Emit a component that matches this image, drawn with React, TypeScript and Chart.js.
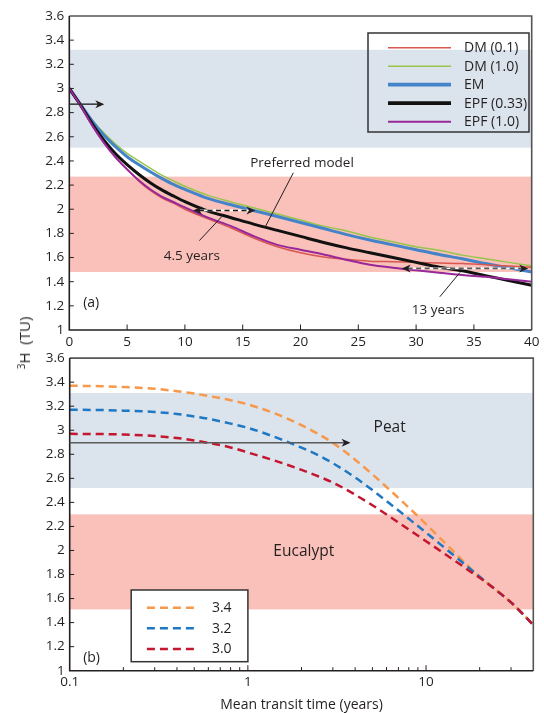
import React, { useEffect, useRef } from "react";
import { Chart, registerables } from "chart.js";

Chart.register(...registerables);

const FONT = "'Open Sans', 'Noto Sans', sans-serif";
const INK = "#231f20";

// ---------- Panel (a): linear mean transit time ----------
const YEARS_A = [0, 1, 2, 3, 4, 5, 6, 7, 8, 9, 10, 12, 14, 16, 18, 20, 22, 24, 26, 28, 30, 32, 34, 36, 38, 40];
const DM_01 = [3.0, 2.855, 2.69, 2.55, 2.43, 2.33, 2.235, 2.155, 2.095, 2.05, 2.0, 1.92, 1.845, 1.76, 1.69, 1.64, 1.605, 1.585, 1.57, 1.565, 1.56, 1.555, 1.55, 1.54, 1.53, 1.52];
const DM_10 = [3.0, 2.866, 2.738, 2.63, 2.54, 2.463, 2.4, 2.34, 2.283, 2.235, 2.19, 2.115, 2.06, 2.01, 1.96, 1.91, 1.86, 1.82, 1.77, 1.73, 1.69, 1.66, 1.62, 1.59, 1.56, 1.53];
const EM = [3.0, 2.865, 2.728, 2.612, 2.518, 2.435, 2.37, 2.31, 2.255, 2.205, 2.165, 2.09, 2.037, 1.988, 1.94, 1.89, 1.84, 1.79, 1.745, 1.705, 1.665, 1.625, 1.59, 1.55, 1.515, 1.48];
const EPF_033 = [3.0, 2.858, 2.705, 2.57, 2.46, 2.37, 2.29, 2.22, 2.16, 2.11, 2.063, 1.985, 1.93, 1.875, 1.825, 1.775, 1.725, 1.68, 1.64, 1.6, 1.56, 1.52, 1.49, 1.45, 1.41, 1.37];
const EPF_10 = [3.0, 2.855, 2.69, 2.55, 2.43, 2.33, 2.24, 2.165, 2.105, 2.06, 2.015, 1.93, 1.86, 1.775, 1.705, 1.665, 1.625, 1.58, 1.54, 1.515, 1.495, 1.475, 1.455, 1.44, 1.42, 1.4];
const LABELS_A = ["DM (0.1)", "DM (1.0)", "EM", "EPF (0.33)", "EPF (1.0)"];
const PEAT_A = [2.51, 3.32];
const EUC_A = [1.48, 2.27];
const X_TICKS_A = [0, 5, 10, 15, 20, 25, 30, 35, 40];
const Y_TICKS = [1, 1.2, 1.4, 1.6, 1.8, 2, 2.2, 2.4, 2.6, 2.8, 3, 3.2, 3.4, 3.6];

// annotations (a), in data units (years, TU)
const START_ARROW_A = { y: 2.87, x0: 0, x1: 3.03 };
const ARROW_45 = { y: 1.99, x0: 10.7, x1: 16.1 };
const LABEL_45 = { text: "4.5 years", x: 10.6, y: 1.615 };
const POINTER_45 = [[13.2, 1.94], [11.25, 1.74]];
const ARROW_13 = { y: 1.51, x0: 28.75, x1: 39.7 };
const LABEL_13 = { text: "13 years", x: 31.9, y: 1.167 };
const POINTER_13 = [[33.8, 1.477], [32.05, 1.275]];
const LABEL_PREF = { text: "Preferred model", x: 20.13, y: 2.383 };
const POINTER_PREF = [[19.38, 2.302], [16.93, 1.85]];
const TAG_A = { text: "(a)", x: 1.2, y: 1.22 };

// ---------- Panel (b): log mean transit time ----------
const YEARS_B = [0.1, 0.15, 0.2, 0.3, 0.4, 0.5, 0.6, 0.8, 1, 1.5, 2, 2.5, 3, 4, 5, 6, 8, 10, 12, 15, 18, 22, 26, 30, 35, 40];
const INIT_34 = [3.37, 3.366, 3.36, 3.345, 3.325, 3.305, 3.285, 3.25, 3.215, 3.125, 3.042, 2.967, 2.895, 2.755, 2.633, 2.528, 2.357, 2.219, 2.102, 1.96, 1.843, 1.73, 1.645, 1.568, 1.47, 1.38];
const INIT_32 = [3.17, 3.168, 3.163, 3.152, 3.135, 3.115, 3.095, 3.055, 3.02, 2.93, 2.855, 2.79, 2.726, 2.607, 2.502, 2.411, 2.264, 2.149, 2.053, 1.935, 1.838, 1.73, 1.645, 1.568, 1.47, 1.38];
const INIT_30 = [2.97, 2.968, 2.965, 2.952, 2.935, 2.915, 2.895, 2.857, 2.815, 2.735, 2.67, 2.615, 2.565, 2.464, 2.376, 2.299, 2.174, 2.077, 1.998, 1.9, 1.818, 1.73, 1.645, 1.568, 1.47, 1.38];
const LABELS_B = ["3.4", "3.2", "3.0"];
const PEAT_B = [2.52, 3.31];
const EUC_B = [1.51, 2.3];
const X_MAJOR_B = [0.1, 1, 10];
const X_MINOR_B = [0.2, 0.3, 0.4, 0.5, 0.6, 0.7, 0.8, 0.9, 2, 3, 4, 5, 6, 7, 8, 9, 20, 30];

const ARROW_B = { y: 2.896, x0: 0.1, x1: 3.77 };
const LABEL_PEAT = { text: "Peat", x: 6.25, y: 3.02 };
const LABEL_EUC = { text: "Eucalypt", x: 2.06, y: 1.99 };
const TAG_B = { text: "(b)", x: 0.119, y: 1.103 };

// ---------- styles ----------
const PEAT_COLOR = "#dbe3ec";
const EUC_COLOR = "#f9c1b9";
const COLORS_A = ["#d8574f", "#98c54c", "#4583c9", "#111111", "#98289a"];
const WIDTHS_A = [1.5, 1.5, 3, 3, 2];
const ORDER_A = [2, 4, 3, 1, 0];
const COLORS_B = ["#f7984a", "#1f78c4", "#c3172f"];

function arrowHead(ctx: CanvasRenderingContext2D, x: number, y: number, dir: number, color: string) {
  const len = 9, half = 4, notch = 2.5;
  ctx.fillStyle = color;
  ctx.beginPath();
  ctx.moveTo(x, y);
  ctx.lineTo(x - dir * len, y - half);
  ctx.lineTo(x - dir * (len - notch), y);
  ctx.lineTo(x - dir * len, y + half);
  ctx.closePath();
  ctx.fill();
}

function drawBand(chart: any, range: number[], color: string) {
  const { ctx, chartArea: ca, scales } = chart;
  const y0 = scales.y.getPixelForValue(range[1]);
  const y1 = scales.y.getPixelForValue(range[0]);
  ctx.fillStyle = color;
  ctx.fillRect(ca.left, y0, ca.right - ca.left, y1 - y0);
}

function drawFrame(chart: any, xMajor: number[], xMinor: number[]) {
  const { ctx, chartArea: ca, scales } = chart;
  const sx = scales.x, sy = scales.y;
  ctx.save();
  ctx.strokeStyle = "#555";
  ctx.lineWidth = 1.6;
  ctx.beginPath();
  ctx.moveTo(ca.left, ca.top);
  ctx.lineTo(ca.right, ca.top);
  ctx.lineTo(ca.right, ca.bottom);
  ctx.stroke();
  ctx.strokeStyle = INK;
  ctx.lineWidth = 1;
  ctx.beginPath();
  for (const v of xMajor) {
    const px = sx.getPixelForValue(v);
    if (px <= ca.left + 1 || px >= ca.right - 1) continue;
    ctx.moveTo(px, ca.bottom);
    ctx.lineTo(px, ca.bottom - 5.5);
  }
  for (const v of xMinor) {
    const px = sx.getPixelForValue(v);
    if (px <= ca.left + 1 || px >= ca.right - 1) continue;
    ctx.moveTo(px, ca.bottom);
    ctx.lineTo(px, ca.bottom - 3.5);
  }
  for (const v of Y_TICKS) {
    const py = sy.getPixelForValue(v);
    if (py <= ca.top + 1 || py >= ca.bottom - 1) continue;
    ctx.moveTo(ca.left, py);
    ctx.lineTo(ca.left + 4.5, py);
  }
  ctx.stroke();
  ctx.strokeStyle = INK;
  ctx.lineWidth = 1.6;
  ctx.beginPath();
  ctx.moveTo(ca.left, ca.top);
  ctx.lineTo(ca.left, ca.bottom);
  ctx.lineTo(ca.right, ca.bottom);
  ctx.stroke();
  ctx.restore();
}

function text(chart: any, t: { text: string; x: number; y: number }, size: number, align: CanvasTextAlign) {
  const { ctx, scales } = chart;
  ctx.fillStyle = INK;
  ctx.font = `${size}px ${FONT}`;
  ctx.textAlign = align;
  ctx.textBaseline = "middle";
  ctx.fillText(t.text, scales.x.getPixelForValue(t.x), scales.y.getPixelForValue(t.y));
}

function pointer(chart: any, pts: number[][]) {
  const { ctx, scales } = chart;
  ctx.strokeStyle = INK;
  ctx.lineWidth = 1;
  ctx.setLineDash([]);
  ctx.beginPath();
  ctx.moveTo(scales.x.getPixelForValue(pts[0][0]), scales.y.getPixelForValue(pts[0][1]));
  ctx.lineTo(scales.x.getPixelForValue(pts[1][0]), scales.y.getPixelForValue(pts[1][1]));
  ctx.stroke();
}

function solidArrow(chart: any, a: { y: number; x0: number; x1: number }, color: string) {
  const { ctx, scales } = chart;
  const x0 = scales.x.getPixelForValue(a.x0);
  const x1 = scales.x.getPixelForValue(a.x1);
  const y = scales.y.getPixelForValue(a.y);
  ctx.strokeStyle = color;
  ctx.lineWidth = 1.5;
  ctx.setLineDash([]);
  ctx.beginPath();
  ctx.moveTo(x0, y);
  ctx.lineTo(x1 - 6, y);
  ctx.stroke();
  arrowHead(ctx, x1, y, 1, "#231f20");
}

function dashedDouble(chart: any, a: { y: number; x0: number; x1: number }, color: string) {
  const { ctx, scales } = chart;
  const x0 = scales.x.getPixelForValue(a.x0);
  const x1 = scales.x.getPixelForValue(a.x1);
  const y = scales.y.getPixelForValue(a.y);
  ctx.setLineDash([]);
  ctx.strokeStyle = "#ffffff";
  ctx.lineWidth = 1.8;
  ctx.beginPath();
  ctx.moveTo(x0 + 6, y);
  ctx.lineTo(x1 - 6, y);
  ctx.stroke();
  ctx.strokeStyle = color;
  ctx.lineWidth = 1.6;
  ctx.setLineDash([5, 3.5]);
  ctx.beginPath();
  ctx.moveTo(x0 + 6, y);
  ctx.lineTo(x1 - 6, y);
  ctx.stroke();
  ctx.setLineDash([]);
  arrowHead(ctx, x0, y, -1, "#231f20");
  arrowHead(ctx, x1, y, 1, "#231f20");
}

const pluginA = {
  id: "panelA",
  beforeDatasetsDraw(chart: any) {
    const { ctx } = chart;
    ctx.save();
    drawBand(chart, PEAT_A, PEAT_COLOR);
    drawBand(chart, EUC_A, EUC_COLOR);
    ctx.restore();
  },
  afterDatasetsDraw(chart: any) {
    const { ctx, chartArea: ca } = chart;
    drawFrame(chart, X_TICKS_A, []);
    ctx.save();
    solidArrow(chart, START_ARROW_A, "#333");
    dashedDouble(chart, ARROW_45, "#1a1a1a");
    dashedDouble(chart, ARROW_13, "#5a5a5a");
    pointer(chart, POINTER_45);
    pointer(chart, POINTER_13);
    pointer(chart, POINTER_PREF);
    text(chart, LABEL_45, 13.5, "center");
    text(chart, LABEL_13, 13.5, "center");
    text(chart, LABEL_PREF, 13.5, "center");
    text(chart, TAG_A, 14, "left");
    // legend
    const bw = 161, bh = 99;
    const bx = ca.right - 2.7 - bw, by = ca.top + 17;
    ctx.strokeStyle = "#333";
    ctx.lineWidth = 1.5;
    ctx.strokeRect(bx, by, bw, bh);
    chart.data.datasets.forEach((ds: any, i: number) => {
      const y = by + 14.7 + i * 18.5;
      ctx.strokeStyle = ds.borderColor;
      ctx.lineWidth = ds.borderWidth + (ds.borderWidth >= 3 ? 0.8 : 0);
      ctx.beginPath();
      ctx.moveTo(bx + 20, y);
      ctx.lineTo(bx + 83, y);
      ctx.stroke();
      ctx.fillStyle = INK;
      ctx.font = `14px ${FONT}`;
      ctx.textAlign = "left";
      ctx.textBaseline = "middle";
      ctx.fillText(ds.label, bx + 96, y + 0.5);
    });
    ctx.restore();
  },
};

const pluginB = {
  id: "panelB",
  beforeDatasetsDraw(chart: any) {
    const { ctx } = chart;
    ctx.save();
    drawBand(chart, PEAT_B, PEAT_COLOR);
    drawBand(chart, EUC_B, EUC_COLOR);
    ctx.restore();
  },
  afterDatasetsDraw(chart: any) {
    const { ctx, chartArea: ca } = chart;
    drawFrame(chart, X_MAJOR_B, X_MINOR_B);
    ctx.save();
    solidArrow(chart, ARROW_B, "#5a5a5a");
    text(chart, LABEL_PEAT, 15.5, "center");
    text(chart, LABEL_EUC, 15.5, "center");
    text(chart, TAG_B, 14, "left");
    const bw = 116.7, bh = 71.7;
    const bx = ca.left + 61.5, by = ca.bottom - 9 - bh;
    ctx.fillStyle = "#ffffff";
    ctx.fillRect(bx, by, bw, bh);
    ctx.strokeStyle = "#333";
    ctx.lineWidth = 1.5;
    ctx.strokeRect(bx, by, bw, bh);
    chart.data.datasets.forEach((ds: any, i: number) => {
      const y = by + 17.7 + i * 20.65;
      ctx.strokeStyle = ds.borderColor;
      ctx.lineWidth = ds.borderWidth;
      ctx.setLineDash(ds.borderDash);
      ctx.beginPath();
      ctx.moveTo(bx + 15.7, y);
      ctx.lineTo(bx + 63.3, y);
      ctx.stroke();
      ctx.setLineDash([]);
      ctx.fillStyle = INK;
      ctx.font = `14px ${FONT}`;
      ctx.textAlign = "left";
      ctx.textBaseline = "middle";
      ctx.fillText(ds.label, bx + 80.7, y + 0.5);
    });
    ctx.restore();
  },
};

const tickFont = { family: FONT, size: 13.5 };

export default function App() {
  const refA = useRef<HTMLCanvasElement>(null);
  const refB = useRef<HTMLCanvasElement>(null);

  useEffect(() => {
    const seriesA = [DM_01, DM_10, EM, EPF_033, EPF_10];
    const chartA = new Chart(refA.current!, {
      type: "line",
      data: {
        datasets: seriesA.map((s, i) => ({
          label: LABELS_A[i],
          data: YEARS_A.map((x, j) => ({ x, y: s[j] })),
          borderColor: COLORS_A[i],
          borderWidth: WIDTHS_A[i],
          pointRadius: 0,
          fill: false,
          cubicInterpolationMode: "monotone" as const,
          order: ORDER_A[i],
        })),
      },
      options: {
        responsive: false,
        animation: false,
        events: [],
        layout: { padding: { top: 16, right: 12.3, bottom: 0, left: 0 } },
        plugins: { legend: { display: false }, tooltip: { enabled: false } },
        scales: {
          x: {
            type: "linear",
            min: 0,
            max: 40,
            grid: { display: false, drawTicks: false },
            border: { display: false },
            afterBuildTicks: (s: any) => { s.ticks = X_TICKS_A.map((v) => ({ value: v })); },
            afterFit: (s: any) => { s.height = 22; },
            ticks: { font: tickFont, color: INK, padding: 4.5, autoSkip: false, maxRotation: 0, callback: (v: any) => String(v) },
          },
          y: {
            type: "linear",
            min: 1,
            max: 3.6,
            grid: { display: false, drawTicks: false },
            border: { display: false },
            afterBuildTicks: (s: any) => { s.ticks = Y_TICKS.map((v) => ({ value: v })); },
            afterFit: (s: any) => { s.width = 69.3; },
            ticks: { font: tickFont, color: INK, padding: 5, autoSkip: false, callback: (v: any) => String(Math.round(Number(v) * 10) / 10) },
          },
        },
      },
      plugins: [pluginA],
    } as any);

    const seriesB = [INIT_34, INIT_32, INIT_30];
    const chartB = new Chart(refB.current!, {
      type: "line",
      data: {
        datasets: seriesB.map((s, i) => ({
          label: LABELS_B[i],
          data: YEARS_B.map((x, j) => ({ x, y: s[j] })),
          borderColor: COLORS_B[i],
          borderWidth: 2.5,
          borderDash: [8, 5],
          pointRadius: 0,
          fill: false,
          cubicInterpolationMode: "monotone" as const,
          order: 2 - i,
        })),
      },
      options: {
        responsive: false,
        animation: false,
        events: [],
        layout: { padding: { top: 11.7, right: 10.7, bottom: 0, left: 0 } },
        plugins: { legend: { display: false }, tooltip: { enabled: false } },
        scales: {
          x: {
            type: "logarithmic",
            min: 0.1,
            max: 40,
            grid: { display: false, drawTicks: false },
            border: { display: false },
            afterBuildTicks: (s: any) => { s.ticks = X_MAJOR_B.map((v) => ({ value: v })); },
            afterFit: (s: any) => { s.height = 42.3; },
            ticks: { font: tickFont, color: INK, padding: 3, autoSkip: false, maxRotation: 0, callback: (v: any) => String(v) },
            title: {
              display: true,
              text: "Mean transit time (years)",
              font: { family: FONT, size: 14 },
              color: INK,
              padding: { top: 0, bottom: 0 },
            },
          },
          y: {
            type: "linear",
            min: 1,
            max: 3.6,
            grid: { display: false, drawTicks: false },
            border: { display: false },
            afterBuildTicks: (s: any) => { s.ticks = Y_TICKS.map((v) => ({ value: v })); },
            afterFit: (s: any) => { s.width = 69.7; },
            ticks: { font: tickFont, color: INK, padding: 5, autoSkip: false, callback: (v: any) => String(Math.round(Number(v) * 10) / 10) },
          },
        },
      },
      plugins: [pluginB],
    } as any);

    return () => {
      chartA.destroy();
      chartB.destroy();
    };
  }, []);

  return (
    <div style={{ position: "absolute", left: 0, top: 0, width: 544, height: 713, background: "#fff", fontFamily: FONT, color: INK }}>
      <canvas ref={refA} width={544} height={352} style={{ position: "absolute", left: 0, top: 0 }} />
      <canvas ref={refB} width={544} height={368} style={{ position: "absolute", left: 0, top: 345 }} />
      <div
        style={{
          position: "absolute",
          left: 23,
          top: 343,
          transform: "translate(-50%, -50%) rotate(-90deg)",
          fontSize: 15,
          whiteSpace: "nowrap",
          lineHeight: "17px",
        }}
      >
        <span style={{ fontSize: 10, verticalAlign: "5px" }}>3</span>H&nbsp;&nbsp;(TU)
      </div>
    </div>
  );
}
